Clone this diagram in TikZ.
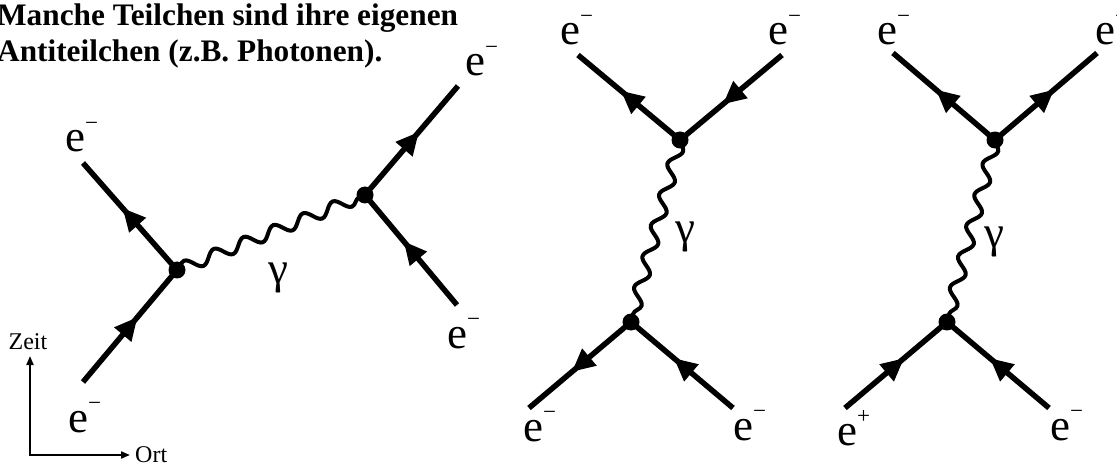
\documentclass[tikz,border=0pt]{standalone}
\usepackage{fontspec}
\setmainfont{Liberation Serif}
\usetikzlibrary{arrows.meta,decorations.markings,decorations.pathmorphing}
\newcommand{\ladung}[1]{\raisebox{0.48em}{\fontsize{23}{23}\selectfont #1}}
\begin{document}
\begin{tikzpicture}[x=1pt, y=-1pt,
          fermion/.style={line width=5.5pt, postaction={decorate},
            decoration={markings, mark=at position 0.58 with {\arrow{Triangle[length=23pt,width=21pt]}}}},
          photon/.style={line width=4pt, decorate, decoration={snake, segment length=32pt, amplitude=6pt}},
          vtx/.style={circle, fill, inner sep=0pt, minimum size=17pt},
          lbl/.style={font=\fontsize{45}{45}\selectfont, inner sep=0pt, anchor=base west},
          gam/.style={font=\fontsize{45}{45}\selectfont, inner sep=0pt},
          titel/.style={font=\bfseries\fontsize{31.3}{36}\selectfont, inner sep=0pt, anchor=base west},
          achse/.style={line width=2pt, {Triangle[length=9pt,width=7pt]}-{Triangle[length=9pt,width=7pt]}}]
        \useasboundingbox (0,0) rectangle (1117,465);
        \node[titel] (titelA) at (-3,26) {Manche Teilchen sind ihre eigenen};
        \node[titel] (titelB) at (-3,62) {Antiteilchen (z.B. Photonen).};
        % Streuung links
        \node[vtx] (v1) at (177,270) {};
        \node[vtx] (v2) at (365,195) {};
        \coordinate (ul1) at (83,163);
        \coordinate (ll1) at (83,382);
        \coordinate (ur1) at (458,86);
        \coordinate (lr1) at (457,305);
        \draw[fermion] (ll1) -- (v1.center);
        \draw[fermion] (v1.center) -- (ul1);
        \draw[fermion] (lr1) -- (v2.center);
        \draw[fermion] (v2.center) -- (ur1);
        \draw[photon] (v1.center) -- (v2.center);
        \node[gam] (g1) at (278,278) {γ};
        \node[lbl] (eul1) at (65,152) {e\ladung{−}};
        \node[lbl] (ell1) at (68,432) {e\ladung{−}};
        \node[lbl] (eur1) at (465,76) {e\ladung{−}};
        \node[lbl] (elr1) at (447,348) {e\ladung{−}};
        % Achsen
        \coordinate (ursprung) at (30,455);
        \coordinate (zeitende) at (30,356);
        \coordinate (ortende) at (130,455);
        \draw[achse] (zeitende) -- (ursprung) -- (ortende);
        \node[font=\fontsize{24}{24}\selectfont, inner sep=0pt, anchor=base] (zeit) at (28,349) {Zeit};
        \node[font=\fontsize{24}{24}\selectfont, inner sep=0pt, anchor=base west] (ort) at (135,462) {Ort};
        % Streuung Mitte
        \node[vtx] (v3) at (680,140) {};
        \node[vtx] (v4) at (631,322) {};
        \coordinate (ul2) at (578,55);
        \coordinate (ur2) at (782,55);
        \coordinate (ll2) at (529,408);
        \coordinate (lr2) at (733,408);
        \draw[fermion] (v3.center) -- (ul2);
        \draw[fermion] (ur2) -- (v3.center);
        \draw[fermion] (v4.center) -- (ll2);
        \draw[fermion] (lr2) -- (v4.center);
        \draw[photon] (v3.center) -- (v4.center);
        \node[gam] (g2) at (685,237) {γ};
        \node[lbl] (eul2) at (560,45) {e\ladung{−}};
        \node[lbl] (eur2) at (768,45) {e\ladung{−}};
        \node[lbl] (ell2) at (523,441) {e\ladung{−}};
        \node[lbl] (elr2) at (733,440) {e\ladung{−}};
        % Streuung rechts
        \node[vtx] (v5) at (995,140) {};
        \node[vtx] (v6) at (947,322) {};
        \coordinate (ul3) at (893,53);
        \coordinate (ur3) at (1097,53);
        \coordinate (ll3) at (845,408);
        \coordinate (lr3) at (1049,408);
        \draw[fermion] (v5.center) -- (ul3);
        \draw[fermion] (v5.center) -- (ur3);
        \draw[fermion] (ll3) -- (v6.center);
        \draw[fermion] (lr3) -- (v6.center);
        \draw[photon] (v5.center) -- (v6.center);
        \node[gam] (g3) at (994,242) {γ};
        \node[lbl] (eul3) at (877,45) {e\ladung{−}};
        \node[lbl] (eur3) at (1095,45) {e\ladung{−}};
        \node[lbl] (ell3) at (837,445) {e\ladung{+}};
        \node[lbl] (elr3) at (1050,440) {e\ladung{−}};
      \end{tikzpicture}
\end{document}
